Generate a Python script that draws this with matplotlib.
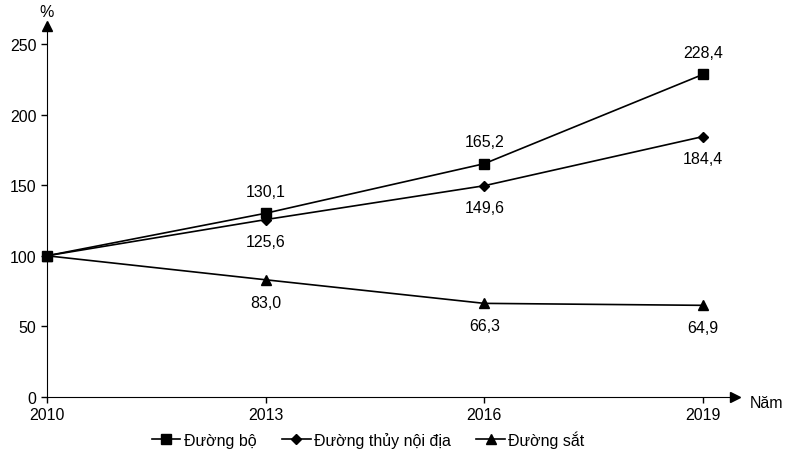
import matplotlib.pyplot as plt

plt.rcParams["font.family"] = ["Liberation Sans", "DejaVu Sans"]
plt.rcParams["font.size"] = 11.5

# --------------------------------------------------
# Data
# --------------------------------------------------

years = [2010, 2013, 2016, 2019]

duong_bo = [100, 130.1, 165.2, 228.4]
duong_thuy = [100, 125.6, 149.6, 184.4]
duong_sat = [100, 83.0, 66.3, 64.9]

# label side: +1 above the point, -1 below, None no label
series = [
    ("Đường bộ", duong_bo, "s", [None, 1, 1, 1]),
    ("Đường thủy nội địa", duong_thuy, "D", [None, -1, -1, -1]),
    ("Đường sắt", duong_sat, "^", [None, -1, -1, -1]),
]


def fmt(v):
    return f"{v:.1f}".replace(".", ",")


# --------------------------------------------------
# MAIN
# --------------------------------------------------

def main():

    fig = plt.figure(figsize=(7.92, 4.6), dpi=100)
    ax = fig.add_axes([0.0593, 0.1348, 0.8687, 0.8065])

    for label, values, marker, sides in series:
        ms = 5 if marker == "D" else 7.5
        ax.plot(years, values, color="black", linewidth=1.2,
                marker=marker, markersize=ms, label=label, clip_on=False)
        for x, v, side in zip(years, values, sides):
            if side is None:
                continue
            ax.annotate(fmt(v), (x, v), xytext=(0, 16 * side),
                        textcoords="offset points", ha="center", va="center")

    ax.set_xlim(2010, 2019.44)
    ax.set_ylim(0, 262.7)
    ax.set_xticks(years)
    ax.set_yticks(range(0, 251, 50))

    ax.spines["top"].set_visible(False)
    ax.spines["right"].set_visible(False)
    ax.tick_params(direction="out", length=4, width=1)

    # axis arrows
    ax.plot(1, 0, ">k", markersize=7, transform=ax.transAxes, clip_on=False)
    ax.plot(0, 1, "^k", markersize=7, transform=ax.transAxes, clip_on=False)

    ax.text(0, 1.02, "%", transform=ax.transAxes, ha="center", va="bottom")
    ax.text(1.022, -0.015, "Năm", transform=ax.transAxes, ha="left", va="center")

    fig.legend(loc="center", bbox_to_anchor=(368 / 792, 0.043), ncol=3,
               frameon=False, handlelength=1.8, handletextpad=0.2,
               columnspacing=1.6)

    plt.savefig("out.png", dpi=100)


if __name__ == "__main__":
    main()
